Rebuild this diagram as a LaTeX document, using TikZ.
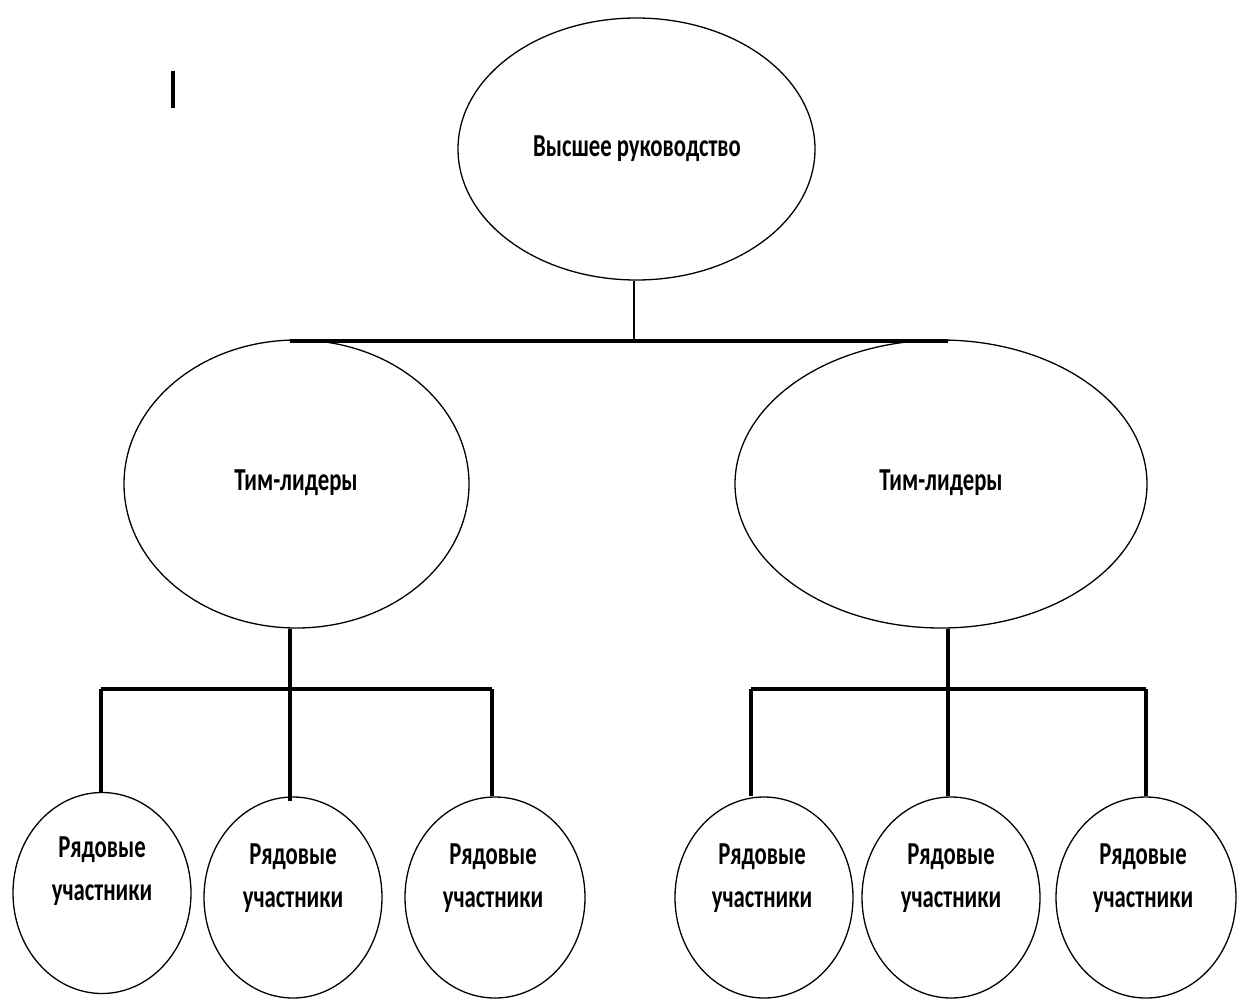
\documentclass[tikz,border=0pt]{standalone}
\usepackage{fontspec}
\usetikzlibrary{shapes.geometric}
\newfontfamily\cf[FakeStretch=0.71]{Carlito}
\begin{document}
\begin{tikzpicture}[x=1pt,y=-1pt,
  ell/.style={draw, ellipse, line width=1.3pt, inner sep=0pt},
  conn/.style={line width=3.2pt},
  thin conn/.style={line width=2.2pt},
  lbl/.style={font=\cf\bfseries\fontsize{32}{43}\selectfont, inner sep=0pt, align=center}]
\useasboundingbox (0,0) rectangle (1237,999);
% ellipses
\node[ell, minimum width=357pt, minimum height=262pt] (top) at (636.5,149) {};
\node[ell, minimum width=345pt, minimum height=288pt] (lt) at (296.5,484) {};
\node[ell, minimum width=412pt, minimum height=288pt] (rt) at (941,484) {};
\node[ell, minimum width=178pt, minimum height=201pt] (b1) at (102,893) {};
\node[ell, minimum width=178pt, minimum height=201pt] (b2) at (293,897.5) {};
\node[ell, minimum width=180pt, minimum height=201pt] (b3) at (495,897.5) {};
\node[ell, minimum width=178pt, minimum height=201pt] (b4) at (764,897.5) {};
\node[ell, minimum width=178pt, minimum height=201pt] (b5) at (951,897.5) {};
\node[ell, minimum width=180pt, minimum height=201pt] (b6) at (1146,897.5) {};
% labels
\node[lbl] (t0) at (637,149) {Высшее руководство};
\node[lbl] (t1) at (296,483) {Тим-лидеры};
\node[lbl] (t2) at (941,483) {Тим-лидеры};
\node[lbl] (t3) at (102,871.5) {Рядовые\\участники};
\node[lbl] (t4) at (293,878.5) {Рядовые\\участники};
\node[lbl] (t5) at (493,878.5) {Рядовые\\участники};
\node[lbl] (t6) at (762,878.5) {Рядовые\\участники};
\node[lbl] (t7) at (951,878.5) {Рядовые\\участники};
\node[lbl] (t8) at (1143,878.5) {Рядовые\\участники};
% junction coordinates
\coordinate (tj) at (634,341);
\coordinate (barL) at (290,341);
\coordinate (barR) at (948,341);
\coordinate (lj) at (290,689);
\coordinate (l1) at (101,689);
\coordinate (l3) at (492,689);
\coordinate (rj) at (948,689);
\coordinate (r1) at (751,689);
\coordinate (r3) at (1146,689);
% connectors
\draw[thin conn] (top.south -| tj) -- (tj);
\draw[line width=3.8pt] (barL) -- (barR);
\draw[conn] (lt.south -| lj) -- (lj);
\draw[conn] (l1) -- (l3);
\draw[conn] (l1) -- (l1 |- b1.north);
\draw[conn] (lj) -- ([yshift=-5pt]lj |- b2.north);
\draw[conn] (l3) -- (l3 |- b3.north);
\draw[conn] (rt.south -| rj) -- (rj);
\draw[conn] (r1) -- (r3);
\draw[conn] (r1) -- (r1 |- b4.north);
\draw[conn] (rj) -- (rj |- b5.north);
\draw[conn] (r3) -- (r3 |- b6.north);
% stray bar
\coordinate (s1) at (173,71);
\coordinate (s2) at (173,108);
\draw[conn] (s1) -- (s2);
\end{tikzpicture}
\end{document}
